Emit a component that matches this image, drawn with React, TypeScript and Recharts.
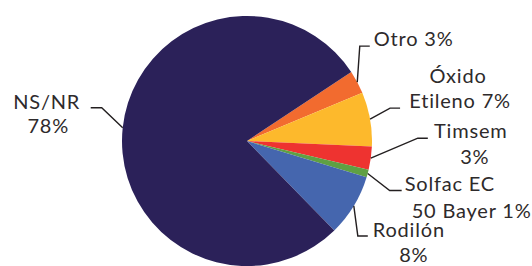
import React from "react";
import { PieChart, Pie, Cell } from "recharts";

const categories = ["Otro", "Óxido Etileno", "Timsem", "Solfac EC 50 Bayer", "Rodilón", "NS/NR"];
const values = [3, 7, 3, 1, 8, 78];
const colors = ["#F26B2F", "#FDB92C", "#EE3330", "#5FA043", "#4566AE", "#2B2159"];

// label layout: elbow offset from slice edge, horizontal run, words per first line, line offsets
const LABEL_LAYOUT = [
  { ex: 2.5, ey: -36, run: 10, split: 2, lines: [{ dx: 4, dy: 0, anchor: "start" }] },
  { ex: 20, ey: -11, run: 10, split: 1, lines: [{ dx: 58, dy: -25, anchor: "middle" }, { dx: 60, dy: 0, anchor: "middle" }] },
  { ex: 47, ey: -20, run: 10, split: 1, lines: [{ dx: 43, dy: 0, anchor: "middle" }, { dx: 47, dy: 26, anchor: "middle" }] },
  { ex: 22, ey: 17, run: 12, split: 2, lines: [{ dx: 3, dy: 0, anchor: "start" }, { dx: 10, dy: 27, anchor: "start" }] },
  { ex: 4, ey: 30, run: 10, split: 1, lines: [{ dx: 5, dy: 1, anchor: "start" }, { dx: 46, dy: 26, anchor: "middle" }] },
  { ex: -21, ey: -20, run: -11, split: 1, lines: [{ dx: -44, dy: 1, anchor: "middle" }, { dx: -42.5, dy: 25, anchor: "middle" }] },
];

const data = categories.map((name, i) => ({ name, value: values[i] }));
const RAD = Math.PI / 180;

const renderLabel = (props: any) => {
  const { cx, cy, midAngle, outerRadius, index } = props;
  const lay = LABEL_LAYOUT[index];
  const sx = cx + outerRadius * Math.cos(-midAngle * RAD);
  const sy = cy + outerRadius * Math.sin(-midAngle * RAD);
  const mx = sx + lay.ex;
  const my = sy + lay.ey;
  const endX = mx + lay.run;
  const endY = my;
  const words = `${categories[index]} ${values[index]}%`.split(" ");
  const textLines = lay.lines.length === 1
    ? [words.join(" ")]
    : [words.slice(0, lay.split).join(" "), words.slice(lay.split).join(" ")];
  return (
    <g key={`lbl-${index}`}>
      <polyline
        points={`${sx},${sy} ${mx},${my} ${endX},${endY}`}
        fill="none"
        stroke="#231F20"
        strokeWidth={1.4}
      />
      {textLines.map((t, j) => (
        <text
          key={j}
          x={endX + lay.lines[j].dx}
          y={endY + lay.lines[j].dy}
          textAnchor={lay.lines[j].anchor as any}
          fontFamily="Lato"
          fontWeight={400}
          fontSize={20}
          letterSpacing={0.8}
          fill="#2E2A2B"
        >
          {t}
        </text>
      ))}
    </g>
  );
};

export default function App() {
  return (
    <div style={{ position: "absolute", left: 0, top: 0, width: 532, height: 266, background: "#fff" }}>
      <PieChart width={532} height={266}>
        <Pie
          data={data}
          dataKey="value"
          nameKey="name"
          cx={242}
          cy={136}
          outerRadius={125}
          startAngle={33.5}
          endAngle={-326.5}
          stroke="none"
          label={renderLabel}
          labelLine={false}
          isAnimationActive={false}
        >
          {data.map((d, i) => (
            <Cell key={d.name} fill={colors[i]} />
          ))}
        </Pie>
      </PieChart>
    </div>
  );
}
